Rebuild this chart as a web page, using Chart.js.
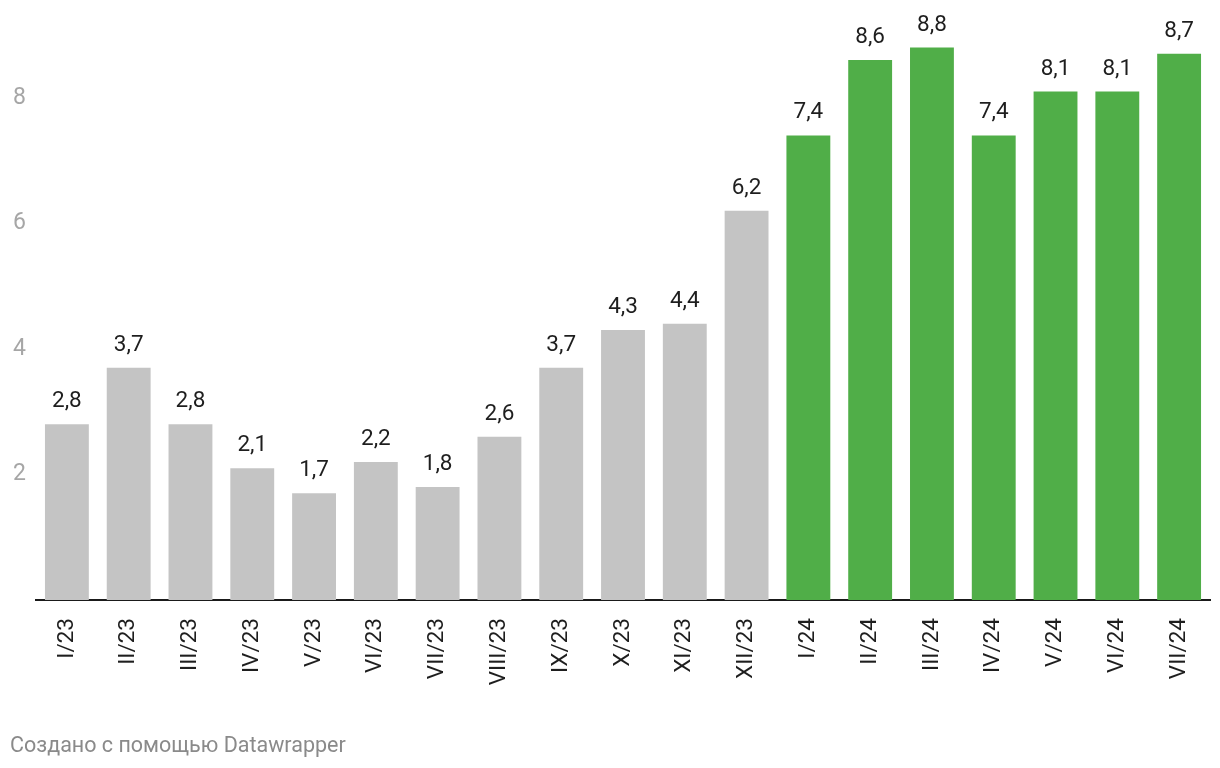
<!DOCTYPE html>
<html>
<head>
<meta charset="utf-8">
<script src="https://cdn.jsdelivr.net/npm/chart.js@4/dist/chart.umd.min.js"></script>
<style>
  body { margin: 0; background: #fff; font-family: Roboto, sans-serif; }
  .wrap { position: relative; width: 1220px; height: 768px; }
  #credit {
    position: absolute; left: 10px; top: 732px;
    font-size: 21.5px; color: #8a8a8a;
  }
</style>
</head>
<body>
<div class="wrap">
  <canvas id="chart" width="1220" height="768"></canvas>
  <div id="credit">Создано с помощью Datawrapper</div>
</div>
<script>
const months = [
  'I/23', 'II/23', 'III/23', 'IV/23', 'V/23', 'VI/23', 'VII/23', 'VIII/23',
  'IX/23', 'X/23', 'XI/23', 'XII/23',
  'I/24', 'II/24', 'III/24', 'IV/24', 'V/24', 'VI/24', 'VII/24'
]
const values = [
  2.8, 3.7, 2.8, 2.1, 1.7, 2.2, 1.8, 2.6, 3.7, 4.3, 4.4, 6.2,
  7.4, 8.6, 8.8, 7.4, 8.1, 8.1, 8.7
]
const yTicks = [2, 4, 6, 8]

const gray = '#c4c4c4'
const green = '#50ae48'
const barColors = months.map(m => m.endsWith('/24') ? green : gray)

// numbers above bars, comma as decimal mark
const valueLabels = {
  id: 'valueLabels',
  afterDatasetsDraw(chart) {
    const ctx = chart.ctx
    const meta = chart.getDatasetMeta(0)
    ctx.save()
    ctx.font = '22.5px Roboto'
    ctx.fillStyle = '#1e1e1e'
    ctx.textAlign = 'center'
    ctx.textBaseline = 'alphabetic'
    meta.data.forEach((bar, i) => {
      const txt = values[i].toFixed(1).replace('.', ',')
      ctx.fillText(txt, bar.x, bar.y - 17)
    })
    ctx.restore()
  }
}

new Chart(document.getElementById('chart'), {
  type: 'bar',
  data: {
    labels: months,
    datasets: [{
      data: values,
      backgroundColor: barColors,
      barPercentage: 0.71,
      categoryPercentage: 1
    }]
  },
  options: {
    responsive: false,
    animation: false,
    layout: { padding: { top: 35, right: 10, left: 0, bottom: 0 } },
    plugins: {
      legend: { display: false },
      tooltip: { enabled: false }
    },
    scales: {
      x: {
        grid: { display: false },
        border: { display: true, color: '#1a1a1a', width: 2 },
        ticks: {
          minRotation: 90,
          maxRotation: 90,
          autoSkip: false,
          padding: 10,
          color: '#1e1e1e',
          font: { family: 'Roboto', size: 22.5 }
        },
        afterFit(scale) { scale.height = 168 }
      },
      y: {
        min: 0,
        max: 9,
        grid: { display: false },
        border: { display: false },
        afterBuildTicks(scale) {
          scale.ticks = yTicks.map(v => ({ value: v }))
        },
        ticks: {
          padding: 2,
          color: '#a6a6a6',
          font: { family: 'Roboto', size: 23 },
          callback: v => String(v)
        },
        afterFit(scale) { scale.width = 36 }
      }
    }
  },
  plugins: [valueLabels]
})
</script>
</body>
</html>
